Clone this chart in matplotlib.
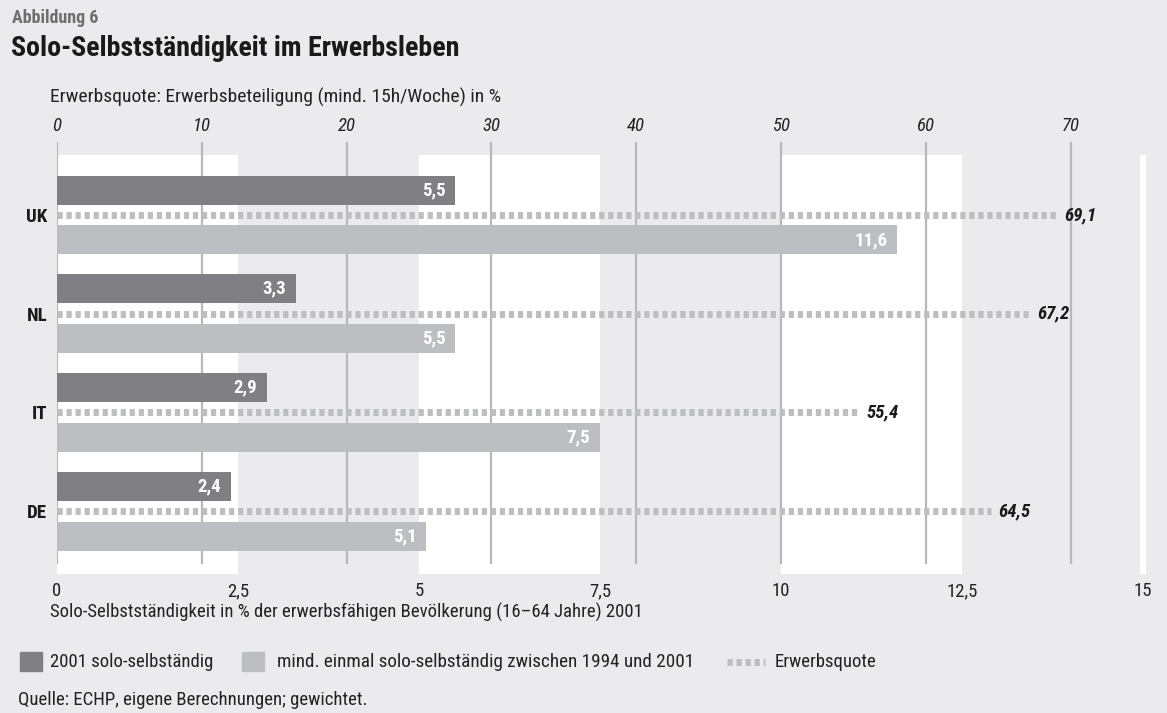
import matplotlib
matplotlib.use('Agg')
import matplotlib.pyplot as plt
from matplotlib import font_manager
from matplotlib.patches import Rectangle
from matplotlib.lines import Line2D

# data
countries = ['UK', 'NL', 'IT', 'DE']
solo_2001 = [5.5, 3.3, 2.9, 2.4]
solo_94_01 = [11.6, 5.5, 7.5, 5.1]
erwerbsquote = [69.1, 67.2, 55.4, 64.5]
bottom_ticks = [0, 2.5, 5, 7.5, 10, 12.5, 15]
top_ticks = [0, 10, 20, 30, 40, 50, 60, 70]

# the original uses a condensed grotesk; take the first narrow family that has a real bold
def pick_font():
    have = {}
    for f in font_manager.fontManager.ttflist:
        w = f.weight if isinstance(f.weight, int) else font_manager.weight_dict.get(f.weight, 400)
        have.setdefault(f.name, set()).add(w)
    for fam in ['Roboto Condensed', 'Helvetica Condensed', 'Nimbus Sans Narrow',
                'Liberation Sans Narrow', 'PT Sans Narrow', 'Fira Sans Condensed',
                'IBM Plex Sans Condensed', 'Barlow Semi Condensed', 'Asap Condensed']:
        if fam in have and max(have[fam]) >= 700:
            return fam
    return 'DejaVu Sans'

fam = pick_font()
plt.rcParams['font.family'] = [fam, 'DejaVu Sans']

bg = '#ebebed'
dark = '#808084'
light = '#bdbec1'
grid = '#b8b8bb'
txt = '#222222'

W, H = 1167, 713
fig = plt.figure(figsize=(W / 100, H / 100), dpi=100, facecolor=bg)

def fx(px):
    return px / W

def fy(py):
    return 1 - py / H

# axes: 0 at x=57, 15 at x=1143, top 142, bottom 574
ax = fig.add_axes([fx(57), fy(574), fx(1143) - fx(57), (574 - 142) / H])
ax.set_facecolor(bg)
ax.set_xlim(0, 15)
ax.set_ylim(3.638, -0.74)
for s in ax.spines.values():
    s.set_visible(False)

# white bands
band_top = 1 - (155 - 142) / 432
for a, b in [(0, 2.5), (5, 7.5), (10, 12.5)]:
    ax.axvspan(a, b, ymin=0, ymax=band_top, color='white', lw=0, zorder=0)
ax.axvspan(14.96, 15.04, ymin=0, ymax=band_top, color='white', lw=0, zorder=0, clip_on=False)

# grid lines at the top scale (erwerbsquote)
grid_bottom = 3 + (564 - 511) / 98.7
ax.vlines([t / 5 for t in top_ticks], -0.74, grid_bottom, color=grid, lw=1.6, zorder=1)

y = list(range(len(countries)))
off = 0.253
h = 0.294
ax.barh([v - off for v in y], solo_2001, height=h, color=dark, zorder=3)
ax.barh([v + off for v in y], solo_94_01, height=h, color=light, zorder=3)

def fmt(v):
    return f'{v:.1f}'.replace('.', ',')

for i in y:
    ax.plot([0, erwerbsquote[i] / 5], [i, i], color=light, lw=5, solid_capstyle='butt',
            dash_capstyle='butt', dashes=(0.75, 0.55), zorder=2)
    ax.annotate(fmt(erwerbsquote[i]), (erwerbsquote[i] / 5, i), xytext=(5, 0),
                textcoords='offset points', ha='left', va='center',
                fontsize=13.5, fontweight='bold', fontstyle='italic', color='#1a1a1a')
    ax.annotate(fmt(solo_2001[i]), (solo_2001[i], i - off), xytext=(-7, 0),
                textcoords='offset points', ha='right', va='center',
                fontsize=13.5, fontweight='bold', color='white', zorder=4)
    ax.annotate(fmt(solo_94_01[i]), (solo_94_01[i], i + off), xytext=(-7, 0),
                textcoords='offset points', ha='right', va='center',
                fontsize=13.5, fontweight='bold', color='white', zorder=4)

ax.set_yticks(y, countries, fontsize=13.5, fontweight='bold', color='#1a1a1a')
ax.set_xticks(bottom_ticks, [fmt(t).replace(',0', '') for t in bottom_ticks],
              fontsize=13.5, color=txt)
ax.tick_params(axis='both', length=0)
ax.tick_params(axis='x', pad=6)
ax.tick_params(axis='y', pad=7)

top = ax.secondary_xaxis('top', functions=(lambda x: x * 5, lambda x: x / 5))
top.set_xticks(top_ticks, [str(t) for t in top_ticks], fontsize=13.5, fontstyle='italic',
               color=txt)
top.tick_params(length=0, pad=5)
for s in top.spines.values():
    s.set_visible(False)

# texts
fig.text(fx(12), fy(18), 'Abbildung 6', fontsize=13, fontweight='bold', color='#6e6e6e',
         va='center', ha='left')
fig.text(fx(11), fy(48), 'Solo-Selbstständigkeit im Erwerbsleben', fontsize=20.2,
         fontweight='bold', color='#1a1a1a', va='center', ha='left')
fig.text(fx(50), fy(97), 'Erwerbsquote: Erwerbsbeteiligung (mind. 15h/Woche) in %',
         fontsize=14, color=txt, va='center', ha='left')
fig.text(fx(50), fy(612),
         'Solo-Selbstständigkeit in % der erwerbsfähigen Bevölkerung (16–64 Jahre) 2001',
         fontsize=13.5, color=txt, va='center', ha='left')
fig.text(fx(18), fy(700), 'Quelle: ECHP, eigene Berechnungen; gewichtet.',
         fontsize=13.5, color=txt, va='center', ha='left')

# legend
ly = 662
fig.add_artist(Rectangle((fx(20), fy(671)), fx(22), (671 - 652) / H, color=dark,
                         transform=fig.transFigure))
fig.text(fx(50), fy(ly), '2001 solo-selbständig', fontsize=13.5, color=txt,
         va='center', ha='left')
fig.add_artist(Rectangle((fx(242), fy(671)), fx(22), (671 - 652) / H, color=light,
                         transform=fig.transFigure))
fig.text(fx(277), fy(ly), 'mind. einmal solo-selbständig zwischen 1994 und 2001',
         fontsize=13.8, color=txt, va='center', ha='left')
fig.add_artist(Line2D([fx(727), fx(765)], [fy(ly), fy(ly)], color=light, lw=5,
                      dashes=(0.75, 0.55), dash_capstyle='butt',
                      transform=fig.transFigure))
fig.text(fx(775), fy(ly), 'Erwerbsquote', fontsize=13.5, color=txt,
         va='center', ha='left')

fig.savefig('out.png', dpi=100, facecolor=bg)
